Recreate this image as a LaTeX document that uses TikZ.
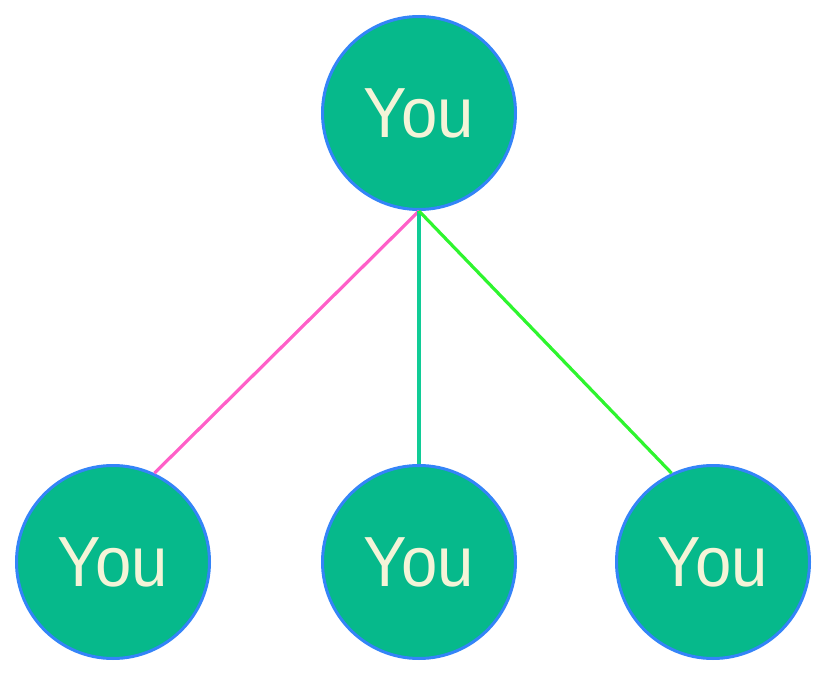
\documentclass[tikz,border=0pt]{standalone}
\usepackage{fontspec}
\setmainfont{Liberation Sans}
\definecolor{nodefill}{HTML}{06B98B}
\definecolor{nodeborder}{HTML}{3484F8}
\definecolor{nodetext}{HTML}{F4F4D8}
\definecolor{linkpink}{HTML}{FF5FC8}
\definecolor{linkteal}{HTML}{10CC96}
\definecolor{linkgreen}{HTML}{2EF52E}
\begin{document}
\begin{tikzpicture}[x=1pt,y=-1pt,
  person/.style={circle, fill=nodefill, draw=nodeborder, line width=3pt,
    minimum size=193pt, inner sep=0pt, text=nodetext,
    font=\fontsize{71}{71}\selectfont},
  link/.style={line width=3.2pt}]
\useasboundingbox (0,0) rectangle (828,677);
\node[person] (top) at (419,113) {\scalebox{0.92}[1]{You}};
\node[person] (bl) at (113,562) {\scalebox{0.92}[1]{You}};
\node[person] (bm) at (419,562) {\scalebox{0.92}[1]{You}};
\node[person] (br) at (713,562) {\scalebox{0.92}[1]{You}};
\draw[link, draw=linkpink] (top.south) -- (bl.65);
\draw[link, draw=linkteal] (top.south) -- (bm.north);
\draw[link, draw=linkgreen] (top.south) -- (br.115);
\end{tikzpicture}
\end{document}
